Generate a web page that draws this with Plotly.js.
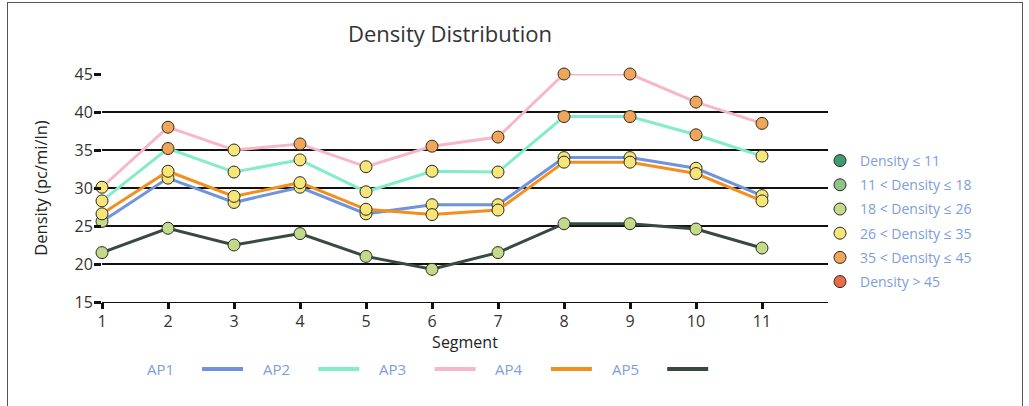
<!DOCTYPE html>
<html>
<head>
<meta charset="utf-8">
<script src="https://cdn.plot.ly/plotly-3.0.1.min.js"></script>
<style>
  html, body { margin: 0; padding: 0; background: #fff; }
  #wrap { position: relative; width: 1029px; height: 406px; }
  #chart { width: 1029px; height: 406px; }
  #frame { position: absolute; left: 7px; top: 2px; width: 1014px; height: 420px;
           border: 1.5px solid #555; pointer-events: none; }
</style>
</head>
<body>
<div id="wrap"><div id="chart"></div><div id="frame"></div></div>
<script>
// ---- data ----
const segments = [1, 2, 3, 4, 5, 6, 7, 8, 9, 10, 11];
const seriesNames = ["AP1", "AP2", "AP3", "AP4", "AP5"];
const ap1 = [25.6, 31.3, 28.1, 30.1, 26.6, 27.8, 27.8, 34.0, 34.0, 32.6, 29.0];
const ap2 = [28.3, 35.2, 32.1, 33.7, 29.5, 32.2, 32.1, 39.4, 39.4, 37.0, 34.2];
const ap3 = [30.1, 38.0, 35.0, 35.8, 32.8, 35.5, 36.7, 45.0, 45.0, 41.3, 38.5];
const ap4 = [26.6, 32.2, 28.9, 30.7, 27.2, 26.5, 27.1, 33.4, 33.4, 31.9, 28.3];
const ap5 = [21.5, 24.7, 22.5, 24.0, 21.0, 19.3, 21.5, 25.3, 25.3, 24.6, 22.1];
const densityLabels = ["Density \u2264 11", "11 < Density \u2264 18", "18 < Density \u2264 26",
                       "26 < Density \u2264 35", "35 < Density \u2264 45", "Density > 45"];
const densityBounds = [11, 18, 26, 35, 45];
const yTicks = [15, 20, 25, 30, 35, 40, 45];

// ---- styles ----
const seriesColors = ["#6f93dc", "#84ecc8", "#f6b8c6", "#f38f1c", "#364a40"];
const densityColors = ["#3f9b72", "#8cc48a", "#c3d98b", "#f6e67a", "#f0a65a", "#ea6a4a"];
const legendColor = "#7d9de0";
const FONT = "'Open Sans', 'Noto Sans', sans-serif";

function densityColor(v) {
  for (let i = 0; i < densityBounds.length; i++) if (v <= densityBounds[i]) return densityColors[i];
  return densityColors[densityColors.length - 1];
}

const allSeries = [ap1, ap2, ap3, ap4, ap5];
const traces = [];
allSeries.forEach((vals, i) => {
  traces.push({
    type: "scatter", mode: "lines+markers", name: seriesNames[i],
    x: segments, y: vals, showlegend: false, cliponaxis: false,
    line: { color: seriesColors[i], width: 3 },
    marker: { size: 12, color: vals.map(densityColor), line: { color: "#2e2a1c", width: 1 } }
  });
});
densityLabels.forEach((lab, i) => {
  traces.push({
    type: "scatter", mode: "markers", name: lab, x: [null], y: [null],
    legendgroup: "d" + i, showlegend: true,
    marker: { size: 12, color: densityColors[i], line: { color: "#2e2a1c", width: 1 } }
  });
});

// plot area in pixels
const L = 102, R = 828, T = 74, B = 302;
const W = 1029, H = 406;
const px2x = p => (p - L) / (R - L);
const py2y = p => (B - p) / (B - T);

const annotations = [];
const shapes = [];
seriesNames.forEach((nm, i) => {
  const off = 116.3 * i;
  annotations.push({
    xref: "paper", yref: "paper", x: px2x(160 + off), y: py2y(369),
    xanchor: "center", yanchor: "middle", showarrow: false, text: nm,
    font: { family: FONT, size: 15, color: legendColor }
  });
  shapes.push({
    type: "line", xref: "paper", yref: "paper",
    x0: px2x(202 + off), x1: px2x(243 + off), y0: py2y(369), y1: py2y(369),
    line: { color: seriesColors[i], width: 4 }
  });
});

const layout = {
  width: W, height: H,
  margin: { l: L, r: W - R, t: T, b: H - B },
  paper_bgcolor: "#fff", plot_bgcolor: "#fff",
  font: { family: FONT, color: "#333" },
  title: { text: "Density Distribution", x: 450 / W, xref: "container", xanchor: "center",
           y: 1 - 34 / H, yref: "container", yanchor: "middle",
           font: { family: FONT, size: 22, color: "#333" } },
  xaxis: {
    range: [1, 12], tickvals: segments, ticktext: segments.map(String),
    showgrid: false, zeroline: false, showline: true, linecolor: "#111", linewidth: 1.3,
    ticks: "outside", ticklen: 6, tickwidth: 3, tickcolor: "#111",
    ticklabelstandoff: -2,
    tickfont: { family: FONT, size: 16, color: "#333" },
    title: { text: "Segment", standoff: 0, font: { family: FONT, size: 16, color: "#222" } }
  },
  yaxis: {
    range: [15, 45], tickvals: yTicks, ticktext: yTicks.map(String),
    showgrid: true, gridcolor: "#111", gridwidth: 1.3, zeroline: false, showline: false,
    ticks: "outside", ticklen: 7, tickwidth: 3, tickcolor: "#111",
    ticklabelstandoff: -2,
    tickfont: { family: FONT, size: 16, color: "#333" },
    title: { text: "Density (pc/mi/ln)", standoff: 22, font: { family: FONT, size: 16.5, color: "#222" } }
  },
  legend: {
    x: px2x(820), y: py2y(145), xanchor: "left", yanchor: "top",
    itemwidth: 30, tracegroupgap: 3, bgcolor: "rgba(0,0,0,0)",
    font: { family: FONT, size: 14, color: legendColor }
  },
  annotations: annotations,
  shapes: shapes
};

Plotly.newPlot("chart", traces, layout, { staticPlot: true, displayModeBar: false });
</script>
</body>
</html>
